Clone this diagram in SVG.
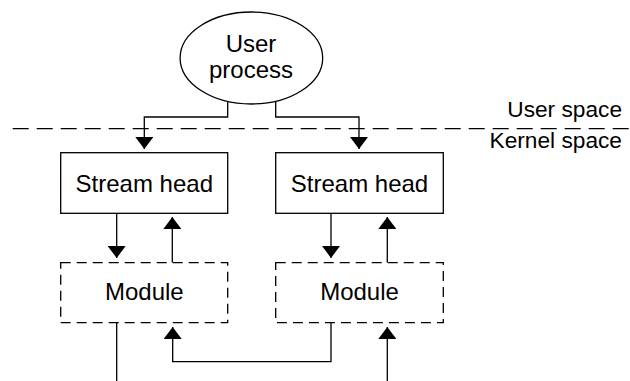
<svg xmlns="http://www.w3.org/2000/svg" width="630" height="381" viewBox="0 0 630 381">
  <style>
    .lbl { font-family: "Liberation Sans", Arial, Helvetica, sans-serif; font-size: 24px; fill: #000; text-anchor: middle; }
    .side { font-family: "Liberation Sans", Arial, Helvetica, sans-serif; font-size: 22.7px; fill: #000; text-anchor: end; }
    .solid { fill: #fff; stroke: #000; stroke-width: 1.3; }
    .dashed { fill: #fff; stroke: #000; stroke-width: 1.3; stroke-dasharray: 10 6; }
    .conn { fill: none; stroke: #000; stroke-width: 1.3; }
    .arr { marker-end: url(#ah); }
  </style>
  <defs>
    <marker id="ah" markerUnits="userSpaceOnUse" viewBox="0 0 12 18" refX="12" refY="9" markerWidth="12" markerHeight="18" orient="auto">
      <path d="M0,0 L12,9 L0,18 z" fill="#000"/>
    </marker>
  </defs>

  <g id="boundary">
    <line x1="12.7" y1="128.7" x2="630" y2="128.7" stroke="#000" stroke-width="1.3" stroke-dasharray="16 8"/>
    <text class="side" x="622" y="117">User space</text>
    <text class="side" x="622" y="147.5">Kernel space</text>
  </g>

  <g id="connectors">
    <path class="conn arr" d="M227.7,101 V117 H144.3 V149"/>
    <path class="conn arr" d="M275.7,101 V117 H359 V149"/>
    <path class="conn arr" d="M116.7,213.3 V258"/>
    <path class="conn arr" d="M172.3,262.7 V217"/>
    <path class="conn arr" d="M331,213.3 V258"/>
    <path class="conn arr" d="M387.3,262.7 V217"/>
    <path class="conn" d="M116.7,322.7 V381"/>
    <path class="conn arr" d="M331,322.7 V361.7 H172.7 V327"/>
    <path class="conn arr" d="M387.3,381 V327"/>
  </g>

  <g id="user-process">
    <ellipse class="solid" cx="251.4" cy="58" rx="71.3" ry="46"/>
    <text class="lbl" x="251" y="52.3">User</text>
    <text class="lbl" x="251" y="77.7">process</text>
  </g>

  <g id="stream-head-1">
    <rect class="solid" x="60.7" y="152.7" width="167" height="60.6"/>
    <text class="lbl" x="144.3" y="191.7">Stream head</text>
  </g>

  <g id="stream-head-2">
    <rect class="solid" x="275.7" y="152.7" width="167.6" height="60.6"/>
    <text class="lbl" x="359.5" y="191.7">Stream head</text>
  </g>

  <g id="module-1">
    <rect class="dashed" x="60.7" y="262.7" width="167" height="60"/>
    <text class="lbl" x="144.3" y="300">Module</text>
  </g>

  <g id="module-2">
    <rect class="dashed" x="275.7" y="262.7" width="167.6" height="60"/>
    <text class="lbl" x="359.5" y="300">Module</text>
  </g>
</svg>
